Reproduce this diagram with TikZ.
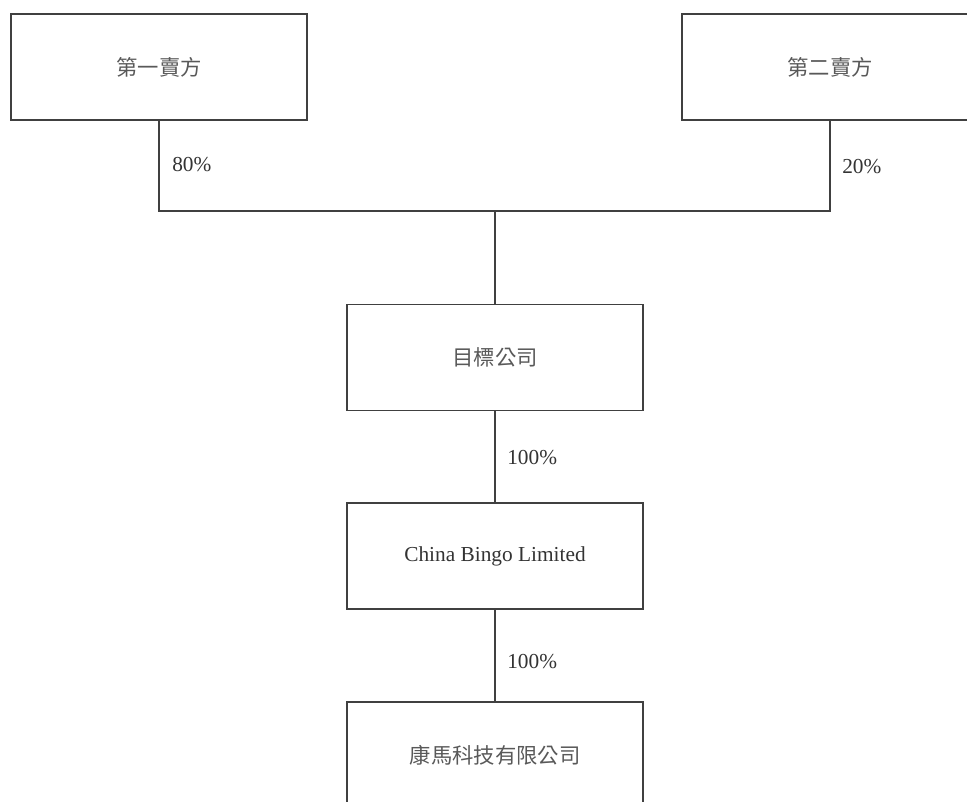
\documentclass[tikz,border=0pt]{standalone}
\usepackage{fontspec}
\usepackage{tikz}
\usetikzlibrary{positioning}
\setmainfont{Liberation Serif}
\newfontfamily\cjk{Noto Sans CJK TC}
\definecolor{inkgray}{HTML}{333333}
\tikzset{entity/.style = {draw = black!75, line width = 0.8pt, minimum width = 222pt, minimum height = 79.5pt, inner sep = 0, text = inkgray, font = \fontsize{16}{19}\selectfont}}
\tikzset{stake/.style = {anchor = west, inner sep = 0, text = inkgray, font = \fontsize{16}{19}\selectfont}}
\tikzset{link/.style = {draw = black!75, line width = 0.8pt}}

\begin{document}
\begin{tikzpicture}[x=0.75pt, y=-0.75pt]
      \path [use as bounding box, clip] (0, 0) rectangle (967, 802);

      \node [entity] (sellerA) at (159, 67) {\cjk\color{black!65} 第一賣方};
      \node [entity] (sellerB) at (830, 67) {\cjk\color{black!65} 第二賣方};
      \node [entity] (target) at (495, 357.5) {\cjk\color{black!65} 目標公司};
      \node [entity] (bingo) at (495, 556) {China Bingo Limited};
      \node [entity] (kangma) at (495, 755) {\cjk\color{black!65} 康馬科技有限公司};

      \coordinate (join) at (495, 211);
      \draw [link] (sellerA.south) |- (join) -| (sellerB.south);
      \draw [link] (join) -- (target.north);
      \draw [link] (target) -- (bingo);
      \draw [link] (bingo) -- (kangma);

      \node [stake] (pctA) at (172, 165) {80\%};
      \node [stake] (pctB) at (842, 167) {20\%};
      \node [stake] (pctT) at (507, 458) {100\%};
      \node [stake] (pctC) at (507, 662) {100\%};
    \end{tikzpicture}
\end{document}
